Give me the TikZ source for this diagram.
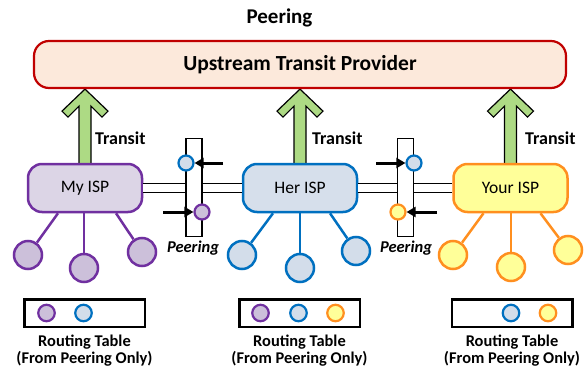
\documentclass[tikz,border=0pt]{standalone}
\usepackage{fontspec}
\setmainfont{Carlito}
\usetikzlibrary{arrows.meta,calc,backgrounds}
\definecolor{cupfill}{HTML}{FCE9DB}
\definecolor{cupdraw}{HTML}{C00000}
\definecolor{cgreen}{HTML}{ADDA84}
\definecolor{cpdraw}{HTML}{7030A0}
\definecolor{cpbox}{HTML}{DCD5E6}
\definecolor{cpleaf}{HTML}{CCC0DA}
\definecolor{cbdraw}{HTML}{0070C0}
\definecolor{cbbox}{HTML}{D6DFEB}
\definecolor{cbleaf}{HTML}{D3DDEA}
\definecolor{codraw}{HTML}{FF8F1F}
\definecolor{cobox}{HTML}{FFFF99}
\begin{document}
\begin{tikzpicture}[x=1pt,y=-1pt,
  isp/.style={draw, rounded corners=14pt, line width=2.5pt, minimum width=114pt, minimum height=48pt, inner sep=0pt, font=\fontsize{17.5}{20}\selectfont},
  leaf/.style={circle, draw, line width=2.5pt, minimum size=28pt, inner sep=0pt},
  leafline/.style={line width=2.5pt},
  pcirc/.style={circle, draw, line width=2.2pt, minimum size=15pt, inner sep=0pt},
  tcirc/.style={circle, draw, line width=2.2pt, minimum size=16.5pt, inner sep=0pt},
  peerbar/.style={draw, fill=white, line width=1.1pt, minimum width=16pt, minimum height=98pt, inner sep=0pt},
  dbl/.style={draw=black, line width=1.1pt, double=white, double distance=8pt},
  parrow/.style={line width=3pt, -{Triangle[length=9pt,width=10pt]}},
  tarrow/.style={draw=black, fill=cgreen, line width=1.2pt, line join=miter},
  rtab/.style={draw, line width=2.5pt, minimum width=120.5pt, minimum height=27.5pt, inner sep=0pt},
  rtext/.style={align=center, font=\bfseries\fontsize{16.4}{17}\selectfont, inner sep=0pt},
  translabel/.style={anchor=west, font=\bfseries\fontsize{18}{20}\selectfont, inner sep=0pt},
  peerlabel/.style={font=\bfseries\itshape\fontsize{16.5}{18}\selectfont, inner sep=0pt}
]
\useasboundingbox (0,0) rectangle (587,370);

% title and upstream provider
\node[font=\bfseries\fontsize{21}{24}\selectfont, inner sep=0pt] (title) at (279.5,18) {Peering};
\node[draw=cupdraw, fill=cupfill, line width=2.2pt, rounded corners=15pt, minimum width=532pt, minimum height=47pt, inner sep=0pt, font=\bfseries\fontsize{21.5}{24}\selectfont] (up) at (300,64.5) {Upstream Transit Provider};

% ISP boxes
\node[isp, draw=cpdraw, fill=cpbox] (my) at (85,188) {My ISP};
\node[isp, draw=cbdraw, fill=cbbox] (her) at (300,188) {Her ISP};
\node[isp, draw=codraw, fill=cobox] (your) at (510.5,188) {Your ISP};

% transit arrows
\begin{scope}[on background layer]
\foreach \n in {my,her,your}{
  \path[tarrow, shift={(\n.north |- up.south)}] (0,0) -- (-23,22) -- (-17,28) -- (-6,17) -- (-6,80) -- (6,80) -- (6,17) -- (17,28) -- (23,22) -- cycle;
}
\end{scope}
\node[translabel] (tr1) at (95,138) {Transit};
\node[translabel] (tr2) at (312,138) {Transit};
\node[translabel] (tr3) at (525,138) {Transit};

% peering bars
\node[peerbar] (pr1) at (194,187.5) {};
\node[peerbar] (pr2) at (405.5,187.5) {};
\draw[dbl] (my.east) -- (my.east -| pr1.west);
\draw[dbl] (pr1.east |- her.west) -- (her.west);
\draw[dbl] (her.east) -- (her.east -| pr2.west);
\draw[dbl] (pr2.east |- your.west) -- (your.west);
\node[peerlabel] (pl1) at (193,248) {Peering};
\node[peerlabel] (pl2) at (406,248) {Peering};

\node[pcirc, draw=cbdraw, fill=cbleaf] (p1a) at (186,163) {};
\node[pcirc, draw=cpdraw, fill=cpleaf] (p1b) at (202,212) {};
\node[pcirc, draw=cbdraw, fill=cbleaf] (p2a) at (414,163) {};
\node[pcirc, draw=codraw, fill=cobox] (p2b) at (398,212) {};
\coordinate (a1) at (223,163);
\coordinate (a2) at (163,212);
\coordinate (a3) at (376,163);
\coordinate (a4) at (437,212);
\draw[parrow] (a1) -- (p1a);
\draw[parrow] (a2) -- (p1b);
\draw[parrow] (a3) -- (p2a);
\draw[parrow] (a4) -- (p2b);

% leaves
\node[leaf, draw=cpdraw, fill=cpleaf] (m1) at (28,255) {};
\node[leaf, draw=cpdraw, fill=cpleaf] (m2) at (84,268) {};
\node[leaf, draw=cpdraw, fill=cpleaf] (m3) at (142,252) {};
\draw[leafline, cpdraw] ($(my.south)+(-27,0)$) -- (m1);
\draw[leafline, cpdraw] (my.south -| m2) -- (m2);
\draw[leafline, cpdraw] ($(my.south)+(31,0)$) -- (m3);

\node[leaf, draw=cbdraw, fill=cbleaf] (h1) at (242,255) {};
\node[leaf, draw=cbdraw, fill=cbleaf] (h2) at (300,268) {};
\node[leaf, draw=cbdraw, fill=cbleaf] (h3) at (356,251) {};
\draw[leafline, cbdraw] ($(her.south)+(-27,0)$) -- (h1);
\draw[leafline, cbdraw] (her.south -| h2) -- (h2);
\draw[leafline, cbdraw] ($(her.south)+(30,0)$) -- (h3);

\node[leaf, draw=codraw, fill=cobox] (y1) at (453,255) {};
\node[leaf, draw=codraw, fill=cobox] (y2) at (511,267) {};
\node[leaf, draw=codraw, fill=cobox] (y3) at (568,250) {};
\draw[leafline, codraw] ($(your.south)+(-27,0)$) -- (y1);
\draw[leafline, codraw] (your.south -| y2) -- (y2);
\draw[leafline, codraw] ($(your.south)+(30,0)$) -- (y3);

% routing tables
\node[rtab] (t1) at (84.5,313) {};
\node[rtab] (t2) at (299.5,313) {};
\node[rtab] (t3) at (512,313) {};
\node[tcirc, draw=cpdraw, fill=cpleaf] (t1a) at ($(t1)+(-38,0)$) {};
\node[tcirc, draw=cbdraw, fill=cbleaf] (t1b) at ($(t1)+(-1,0)$) {};
\node[tcirc, draw=cpdraw, fill=cpleaf] (t2a) at ($(t2)+(-39,0)$) {};
\node[tcirc, draw=cbdraw, fill=cbleaf] (t2b) at ($(t2)+(-1,0)$) {};
\node[tcirc, draw=codraw, fill=cobox] (t2c) at ($(t2)+(36,0)$) {};
\node[tcirc, draw=cbdraw, fill=cbleaf] (t3b) at ($(t3)+(-1,0)$) {};
\node[tcirc, draw=codraw, fill=cobox] (t3c) at ($(t3)+(36,0)$) {};
\node[rtext] (t1l) at (84.5,350.5) {Routing Table\\(From Peering Only)};
\node[rtext] (t2l) at (299.5,350.5) {Routing Table\\(From Peering Only)};
\node[rtext] (t3l) at (512,350.5) {Routing Table\\(From Peering Only)};
\end{tikzpicture}
\end{document}
